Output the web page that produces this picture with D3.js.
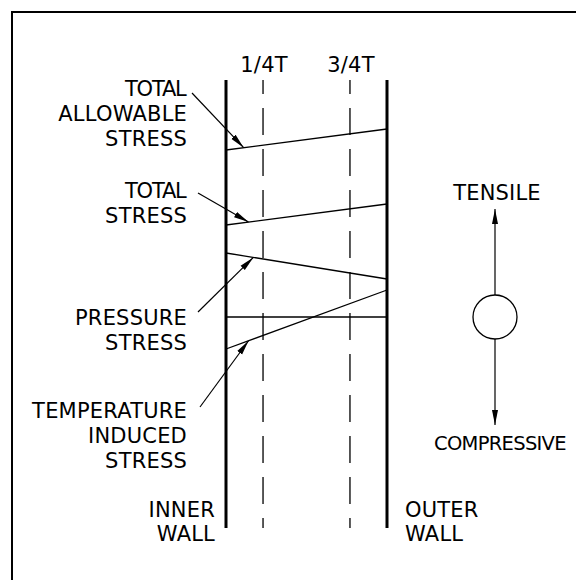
<!DOCTYPE html>
<html>
<head>
<meta charset="utf-8">
<script src="https://cdn.jsdelivr.net/npm/d3@7"></script>
<style>
  body { margin: 0; background: #fff; }
  text { font-family: "DejaVu Sans", sans-serif; font-size: 21px; fill: #000; letter-spacing: 0.2px; }
</style>
</head>
<body>
<svg id="chart"></svg>
<script>
// stress profile data (arbitrary stress units, thickness 0 = inner wall, 1 = outer wall)
const stressLabels = [
  ["TOTAL", "ALLOWABLE", "STRESS"],
  ["TOTAL", "STRESS"],
  ["PRESSURE", "STRESS"],
  ["TEMPERATURE", "INDUCED", "STRESS"]
];
const innerStress = [16.7, 9.2, 6.4, -3.2];
const outerStress = [18.8, 11.3, 3.8, 2.7];
const pointerAt = [0.11, 0.14, 0.17, 0.14];   // where each leader touches its line
const zeroStress = [0, 0];
const thicknessTicks = ["1/4T", "3/4T"];
const tickAt = [0.23, 0.77];
const directionLabels = ["TENSILE", "COMPRESSIVE"];
const wallLabels = [["INNER", "WALL"], ["OUTER", "WALL"]];

const width = 576, height = 580;
const wallTop = 80, wallBottom = 528;

const svg = d3.select("#chart").attr("width", width).attr("height", height);

const xScale = d3.scaleLinear().domain([0, 1]).range([226, 387]);
const yScale = d3.scaleLinear().domain([-21.1, 23.7]).range([wallBottom, wallTop]);

// arrowhead
svg.append("defs").append("marker")
  .attr("id", "head")
  .attr("markerUnits", "userSpaceOnUse")
  .attr("viewBox", "0 -4 15 8")
  .attr("refX", 15).attr("refY", 0)
  .attr("markerWidth", 15).attr("markerHeight", 8)
  .attr("orient", "auto")
  .append("path").attr("d", "M0,-3L15,0L0,3Z").attr("fill", "#000");

// frame (only top and left edges are in view)
svg.append("path")
  .attr("d", `M12,${height}V12H${width}`)
  .attr("fill", "none").attr("stroke", "#000").attr("stroke-width", 2);

const g = svg.append("g").attr("fill", "none").attr("stroke", "#000");

// quarter thickness dashed lines
g.selectAll("line.tick").data(tickAt).join("line")
  .attr("class", "tick")
  .attr("x1", d => xScale(d)).attr("x2", d => xScale(d))
  .attr("y1", wallTop).attr("y2", wallBottom)
  .attr("stroke-width", 1.3)
  .attr("stroke-dasharray", "27,14")
  .attr("stroke-dashoffset", 13);

// walls
g.selectAll("line.wall").data([0, 1]).join("line")
  .attr("class", "wall")
  .attr("x1", d => xScale(d)).attr("x2", d => xScale(d))
  .attr("y1", wallTop).attr("y2", wallBottom)
  .attr("stroke-width", 3);

// stress lines
const line = d3.line().x(d => xScale(d[0])).y(d => yScale(d[1]));
const profiles = innerStress.map((v, i) => [[0, v], [1, outerStress[i]]]);
g.selectAll("path.stress").data(profiles).join("path")
  .attr("class", "stress")
  .attr("d", line)
  .attr("stroke-width", 1.3);
g.append("path")
  .attr("d", line(zeroStress.map((v, i) => [i, v])))
  .attr("stroke-width", 1.3);

// labels on the left with leaders
const labelRight = 187;
const labelLayout = [
  { base: 96, from: [192, 93] },
  { base: 198, from: [198, 193] },
  { base: 325, from: [198, 312] },
  { base: 418, from: [200, 407] }
];
const lineGap = 25;

stressLabels.forEach((lines, i) => {
  const lay = labelLayout[i];
  svg.append("text")
    .attr("text-anchor", "end")
    .selectAll("tspan").data(lines).join("tspan")
    .attr("x", labelRight)
    .attr("y", (d, j) => lay.base + j * lineGap)
    .attr("textLength", d => d === "TOTAL" ? 62 : null)
    .text(d => d);
  const t = pointerAt[i];
  const tipY = yScale(innerStress[i] + (outerStress[i] - innerStress[i]) * t);
  svg.append("line")
    .attr("x1", lay.from[0]).attr("y1", lay.from[1])
    .attr("x2", xScale(t)).attr("y2", tipY)
    .attr("stroke", "#000").attr("stroke-width", 1.2)
    .attr("marker-end", "url(#head)");
});

// thickness tick labels
svg.selectAll("text.tl").data(thicknessTicks).join("text")
  .attr("class", "tl")
  .attr("text-anchor", "middle")
  .attr("x", (d, i) => xScale(tickAt[i]) + 1)
  .attr("y", 72)
  .text(d => d);

// wall labels
svg.append("text").attr("text-anchor", "end")
  .selectAll("tspan").data(wallLabels[0]).join("tspan")
  .attr("x", 215).attr("y", (d, j) => 517 + j * 24).text(d => d);
svg.append("text").attr("text-anchor", "start")
  .selectAll("tspan").data(wallLabels[1]).join("tspan")
  .attr("x", 405).attr("y", (d, j) => 517 + j * 24).text(d => d);

// tensile / compressive legend
const cx = 495, cy = yScale(0), r = 22;
svg.append("circle").attr("cx", cx).attr("cy", cy).attr("r", r)
  .attr("fill", "none").attr("stroke", "#000").attr("stroke-width", 1.3);
svg.append("line").attr("x1", cx).attr("y1", cy - r).attr("x2", cx).attr("y2", 209)
  .attr("stroke", "#000").attr("stroke-width", 1.2).attr("marker-end", "url(#head)");
svg.append("line").attr("x1", cx).attr("y1", cy + r).attr("x2", cx).attr("y2", 425)
  .attr("stroke", "#000").attr("stroke-width", 1.2).attr("marker-end", "url(#head)");
svg.append("text").attr("text-anchor", "middle").attr("x", 497).attr("y", 200).text(directionLabels[0]);
svg.append("text").attr("x", 434).attr("y", 450)
  .style("font-size", "19.5px").style("letter-spacing", "-0.7px")
  .text(directionLabels[1]);
</script>
</body>
</html>
